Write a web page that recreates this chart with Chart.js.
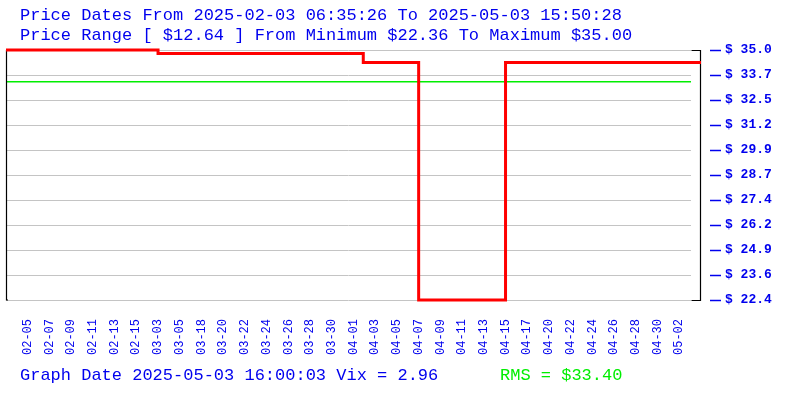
<!DOCTYPE html>
<html>
<head>
<meta charset="utf-8">
<script src="https://cdn.jsdelivr.net/npm/chart.js@4.4.1/dist/chart.umd.min.js"></script>
<style>
html,body{margin:0;padding:0;background:#fff;}
#wrap{width:800px;height:400px;position:relative;}
</style>
</head>
<body>
<div id="wrap"><canvas id="c" width="800" height="400"></canvas></div>
<script>
// ---- data ----
const dateLabels = ["02-05","02-07","02-09","02-11","02-13","02-15","03-03","03-05","03-18","03-20","03-22","03-24","03-26","03-28","03-30","04-01","04-03","04-05","04-07","04-09","04-11","04-13","04-15","04-17","04-20","04-22","04-24","04-26","04-28","04-30","05-02"];
// x positions are in label-slot units (label i sits at slot i+1)
const priceX = [0, 7, 16.45, 19, 23, 32];
const priceY = [35.0, 34.82, 34.37, 22.36, 34.37, 34.37];
const yTickValues = [22.36, 23.624, 24.888, 26.152, 27.416, 28.68, 29.944, 31.208, 32.472, 33.736, 35.0];
const yTickLabels = ["$ 22.4", "$ 23.6", "$ 24.9", "$ 26.2", "$ 27.4", "$ 28.7", "$ 29.9", "$ 31.2", "$ 32.5", "$ 33.7", "$ 35.0"];
const priceMin = 22.36, priceMax = 35.0;
const rmsValue = 33.40;
const titleLines = ["Price Dates From 2025-02-03 06:35:26 To 2025-05-03 15:50:28",
                    "Price Range [ $12.64 ] From Minimum $22.36 To Maximum $35.00"];
const footerText = "Graph Date 2025-05-03 16:00:03 Vix = 2.96";
const rmsText = "RMS = $33.40";

const BLUE = '#0000ee';
const GREEN = '#00ee00';
const MONO = '"Liberation Mono", "DejaVu Sans Mono", monospace';

const decor = {
  id: 'decor',
  beforeDatasetsDraw(chart) {
    const {ctx, chartArea: a, scales: {y}} = chart;
    const gx1 = a.left, gx2 = a.right - 10;
    ctx.save();
    ctx.strokeStyle = '#c4c4c4';
    ctx.lineWidth = 1;
    yTickValues.forEach(v => {
      const py = Math.round(y.getPixelForValue(v)) + 0.5;
      ctx.beginPath(); ctx.moveTo(gx1, py); ctx.lineTo(gx2, py); ctx.stroke();
    });
    ctx.strokeStyle = GREEN;
    ctx.lineWidth = 1.5;
    const ry = y.getPixelForValue(rmsValue);
    ctx.beginPath(); ctx.moveTo(gx1, ry); ctx.lineTo(gx2, ry); ctx.stroke();
    ctx.strokeStyle = '#000';
    ctx.lineWidth = 1.2;
    ctx.beginPath(); ctx.moveTo(a.left + 0.5, a.top); ctx.lineTo(a.left + 0.5, a.bottom); ctx.lineTo(a.left + 2, a.bottom); ctx.stroke();
    const bx = a.right - 0.5;
    ctx.beginPath();
    ctx.moveTo(bx - 9, a.top + 0.5); ctx.lineTo(bx, a.top + 0.5);
    ctx.lineTo(bx, a.bottom + 0.5); ctx.lineTo(bx - 9, a.bottom + 0.5);
    ctx.stroke();
    ctx.strokeStyle = BLUE;
    ctx.lineWidth = 1.5;
    yTickValues.forEach(v => {
      const py = Math.round(y.getPixelForValue(v)) + 0.5;
      ctx.beginPath(); ctx.moveTo(a.right + 9, py); ctx.lineTo(a.right + 20, py); ctx.stroke();
    });
    ctx.restore();
  },
  afterDraw(chart) {
    const {ctx} = chart;
    ctx.save();
    ctx.font = '17px ' + MONO;
    ctx.textBaseline = 'middle';
    ctx.textAlign = 'left';
    ctx.fillStyle = BLUE;
    ctx.fillText(titleLines[0], 20, 15);
    ctx.fillText(titleLines[1], 20, 35);
    ctx.fillText(footerText, 20, 375);
    ctx.fillStyle = GREEN;
    ctx.fillText(rmsText, 500, 375);
    ctx.restore();
  }
};

new Chart(document.getElementById('c'), {
  type: 'line',
  data: {
    datasets: [{
      data: priceX.map((x, i) => ({x: x, y: priceY[i]})),
      borderColor: '#ff0000',
      borderWidth: 3,
      pointRadius: 0,
      stepped: true,
      fill: false,
      clip: false,
      tension: 0
    }]
  },
  options: {
    responsive: false,
    animation: false,
    events: [],
    layout: {padding: {left: 6, top: 50, right: 0, bottom: 0}},
    plugins: {legend: {display: false}, tooltip: {enabled: false}, title: {display: false}},
    scales: {
      x: {
        type: 'linear',
        min: 0, max: dateLabels.length + 1,
        grid: {display: false, drawTicks: false},
        border: {display: false},
        afterBuildTicks(scale) { scale.ticks = dateLabels.map((_, i) => ({value: i + 1})); },
        afterFit(scale) { scale.height = 100; },
        ticks: {
          autoSkip: false,
          minRotation: 90, maxRotation: 90,
          padding: 19,
          color: BLUE,
          font: {family: MONO, size: 12},
          callback: (v) => dateLabels[v - 1] || ''
        }
      },
      y: {
        type: 'linear',
        position: 'right',
        min: priceMin, max: priceMax,
        grid: {display: false, drawTicks: false},
        border: {display: false},
        afterBuildTicks(scale) { scale.ticks = yTickValues.map(v => ({value: v})); },
        afterFit(scale) { scale.width = 99; },
        ticks: {
          padding: 24,
          color: BLUE,
          font: {family: MONO, size: 13, weight: 'bold'},
          callback: (v, i) => yTickLabels[i]
        }
      }
    }
  },
  plugins: [decor]
});
</script>
</body>
</html>
